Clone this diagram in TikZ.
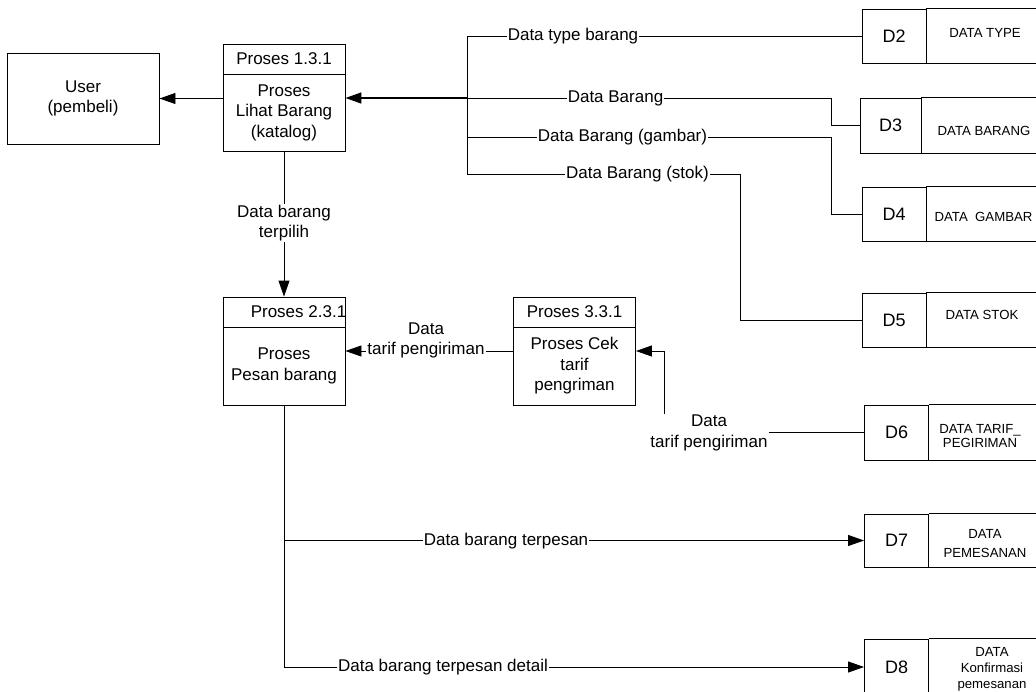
\documentclass[tikz,border=0pt]{standalone}
\usepackage{fontspec}
\setmainfont{Liberation Sans}
\usetikzlibrary{arrows.meta}
\def\storeopen(#1){\draw[line width=0.9pt] (#1.north east) -- ++(130,0) (#1.south east) -- ++(130,0);}
\tikzset{
	flow/.style={-{Triangle[length=16pt,width=11pt]}, line width=0.9pt},
	lbl/.style={fill=white, inner sep=1pt, align=center, font=\fontsize{17}{20.5}\selectfont},
	box/.style={draw, line width=0.9pt, inner sep=0pt, align=center, font=\fontsize{17}{20.5}\selectfont},
	prochead/.style={box, minimum width=122pt, minimum height=30pt},
	procbody/.style={box, minimum width=122pt, minimum height=78pt},
	storeid/.style={box, minimum width=64pt, minimum height=54pt, font=\fontsize{18}{20}\selectfont},
	storename/.style={inner sep=0pt, align=center, font=\fontsize{13.2}{16}\selectfont},
}

\begin{document}
\begin{tikzpicture}[x=1pt, y=-1pt]
			%%%%% START %%%%%
			\useasboundingbox (0,0) rectangle (1036,691);
			\clip (0,0) rectangle (1036,691);
			
			\node[box, minimum width=152pt, minimum height=91pt] (user) at (83,98.5) {User\\(pembeli)};
			
			\node[prochead] (p1h) at (284,59) {Proses 1.3.1};
			\node[procbody, minimum height=77pt] (p1) at (284,112.5) {Proses\\Lihat Barang\\(katalog)};
			
			\node[prochead] (p2h) at (284,312) {};
			\node[font=\fontsize{17}{20.5}\selectfont, inner sep=0pt] (p2t) at (298.5,312) {Proses 2.3.1};
			\node[procbody] (p2) at (284,366) {Proses\\Pesan barang};
			
			\node[prochead] (p3h) at (574.5,312) {Proses 3.3.1};
			\node[procbody] (p3) at (574.5,366) {Proses Cek\\tarif\\pengriman};
			
			% data stores, open at the right
			\node[storeid] (d2) at (894,36) {D2};
			\storeopen(d2)
			\node[storename] (d2n) at (985,33) {DATA TYPE};
			\node[storeid, minimum width=61pt, minimum height=55pt] (d3) at (890.5,125.5) {D3};
			\storeopen(d3)
			\node[storename] (d3n) at (984,131) {DATA BARANG};
			\node[storeid] (d4) at (894,214) {D4};
			\storeopen(d4)
			\node[storename] (d4n) at (983.5,217) {DATA\ \ GAMBAR};
			\node[storeid] (d5) at (894,320) {D5};
			\storeopen(d5)
			\node[storename] (d5n) at (982,315) {DATA STOK};
			\node[storeid, minimum height=55pt] (d6) at (896.5,432.5) {D6};
			\storeopen(d6)
			\node[storename, font=\fontsize{13.2}{13.5}\selectfont] (d6n) at (980,436) {DATA TARIF\_\\PEGIRIMAN};
			\node[storeid, minimum height=53pt] (d7) at (896.5,540.5) {D7};
			\storeopen(d7)
			\node[storename, font=\fontsize{13.2}{19}\selectfont] (d7n) at (985,544) {DATA\\PEMESANAN};
			\node[storeid, minimum height=56pt] (d8) at (896.5,667) {D8};
			\storeopen(d8)
			\node[storename] (d8n) at (992,669) {DATA\\Konfirmasi\\pemesanan};
			
			% bus and bends
			\coordinate (b2) at (467,36);
			\coordinate (b3) at (467,98);
			\coordinate (b4) at (467,137);
			\coordinate (b5) at (467,174);
			\coordinate (k3) at (831,98);
			\coordinate (k4) at (831,137);
			\coordinate (k5) at (740,174);
			\coordinate (k6) at (664,351);
			
			\draw[line width=0.9pt] (d2.west) -- (b2) -- (b5);
			\draw[line width=0.9pt] (d3.west) -| (k3) -- (b3);
			\draw[line width=0.9pt] (d4.west) -| (k4) -- (b4);
			\draw[line width=0.9pt] (d5.west) -| (k5) -- (b5);
			\draw[flow, line width=1.6pt] (b3) -- (p1.east |- b3);
			\draw[flow] (p1.west |- user) -- (user.east);
			\draw[flow] (p1.south) -- (p2h.north);
			\draw[flow] ([yshift=15pt]p3.west) -- ([yshift=15pt]p2.east);
			\draw[flow] (d6.west) -| (k6) -- ([yshift=15pt]p3.east);
			\draw[flow] (p2.south) |- (d7.west);
			\draw[flow] (p2.south) |- (d8.west);
			
			% flow labels
			\node[lbl] (l2) at (573,36) {Data type barang};
			\node[lbl] (l3) at (615.5,98) {Data Barang};
			\node[lbl] (l4) at (622.5,137) {Data Barang (gambar)};
			\node[lbl] (l5) at (637.5,174) {Data Barang (stok)};
			\node[lbl] (l1) at (284,223) {Data barang\\terpilih};
			\node[lbl] (l8) at (426,340.5) {Data\\tarif pengiriman};
			\node[lbl] (l9) at (709,433) {Data\\tarif pengiriman};
			\node[lbl] (l10) at (506,541) {Data barang terpesan};
			\node[lbl] (l11) at (443,667) {Data barang terpesan detail};
			
			%%%%% END %%%%%
\end{tikzpicture}
\end{document}
